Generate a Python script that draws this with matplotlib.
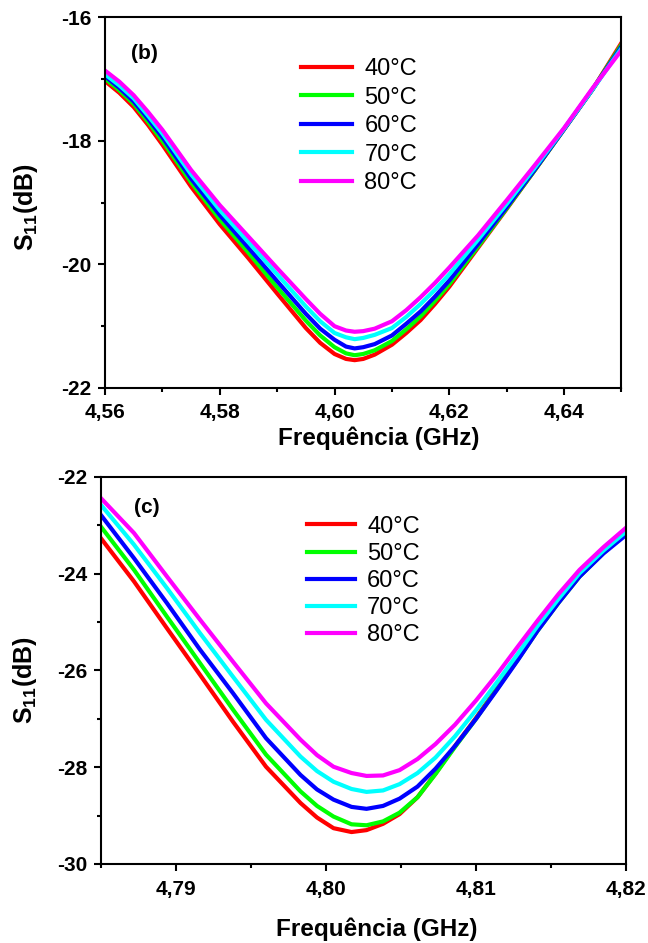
import numpy as np
import matplotlib
matplotlib.use("Agg")
import matplotlib.pyplot as plt
from matplotlib.ticker import MultipleLocator, FuncFormatter

plt.rcParams["font.family"] = ["Liberation Sans", "DejaVu Sans"]
plt.rcParams["axes.unicode_minus"] = False
plt.rcParams["mathtext.fontset"] = "custom"
plt.rcParams["mathtext.rm"] = "Liberation Sans:bold"
plt.rcParams["mathtext.bf"] = "Liberation Sans:bold"

labels = ["40°C", "50°C", "60°C", "70°C", "80°C"]
colors = ["#ff0000", "#00ff00", "#0000ff", "#00ffff", "#ff00ff"]

# panel (b)
freq_b = [4.5600, 4.5625, 4.5650, 4.5675, 4.5700, 4.5750, 4.5800, 4.5850, 4.5900, 4.5950,
          4.5975, 4.6000, 4.6020, 4.6035, 4.6050, 4.6070, 4.6100, 4.6125, 4.6150, 4.6175,
          4.6200, 4.6250, 4.6300, 4.6350, 4.6400, 4.6450, 4.6500]
s11_b_40 = [-17.03, -17.22, -17.45, -17.74, -18.06, -18.74, -19.35, -19.90, -20.47, -21.03,
            -21.27, -21.45, -21.53, -21.55, -21.53, -21.46, -21.30, -21.11, -20.90, -20.64,
            -20.36, -19.73, -19.10, -18.46, -17.81, -17.16, -16.41]
s11_b_50 = [-16.99, -17.18, -17.40, -17.69, -18.00, -18.67, -19.27, -19.81, -20.37, -20.91,
            -21.15, -21.34, -21.44, -21.47, -21.45, -21.39, -21.24, -21.05, -20.84, -20.59,
            -20.32, -19.71, -19.09, -18.46, -17.81, -17.16, -16.44]
s11_b_60 = [-16.95, -17.14, -17.36, -17.64, -17.94, -18.61, -19.20, -19.73, -20.27, -20.80,
            -21.04, -21.22, -21.33, -21.36, -21.34, -21.29, -21.15, -20.96, -20.76, -20.52,
            -20.26, -19.67, -19.07, -18.45, -17.81, -17.16, -16.47]
s11_b_70 = [-16.92, -17.10, -17.31, -17.59, -17.88, -18.54, -19.12, -19.64, -20.16, -20.68,
            -20.92, -21.11, -21.18, -21.21, -21.19, -21.14, -21.03, -20.85, -20.64, -20.41,
            -20.16, -19.60, -19.02, -18.42, -17.80, -17.16, -16.50]
s11_b_80 = [-16.86, -17.04, -17.26, -17.53, -17.82, -18.47, -19.04, -19.55, -20.06, -20.56,
            -20.80, -21.00, -21.07, -21.09, -21.08, -21.04, -20.92, -20.74, -20.53, -20.30,
            -20.05, -19.53, -18.96, -18.38, -17.79, -17.14, -16.53]

# panel (c)
freq_c = [4.7850, 4.7872, 4.7894, 4.7916, 4.7938, 4.7960, 4.7983, 4.7994, 4.8005, 4.8017,
          4.8027, 4.8038, 4.8049, 4.8061, 4.8073, 4.8086, 4.8100, 4.8114, 4.8128, 4.8141,
          4.8155, 4.8169, 4.8185, 4.8200]
s11_c_40 = [-23.27, -24.16, -25.13, -26.09, -27.06, -27.99, -28.74, -29.04, -29.26, -29.34,
            -29.30, -29.17, -28.97, -28.62, -28.13, -27.56, -26.98, -26.36, -25.75, -25.16,
            -24.58, -24.04, -23.55, -23.10]
s11_c_50 = [-23.03, -23.92, -24.89, -25.85, -26.81, -27.74, -28.50, -28.80, -29.02, -29.18,
            -29.20, -29.12, -28.94, -28.62, -28.14, -27.58, -27.00, -26.38, -25.77, -25.18,
            -24.60, -24.06, -23.57, -23.15]
s11_c_60 = [-22.79, -23.68, -24.61, -25.57, -26.47, -27.40, -28.16, -28.46, -28.67, -28.82,
            -28.86, -28.80, -28.65, -28.40, -28.03, -27.56, -27.00, -26.40, -25.78, -25.18,
            -24.60, -24.06, -23.58, -23.20]
s11_c_70 = [-22.58, -23.40, -24.30, -25.23, -26.13, -27.02, -27.78, -28.08, -28.30, -28.45,
            -28.51, -28.48, -28.35, -28.12, -27.80, -27.36, -26.82, -26.24, -25.65, -25.08,
            -24.52, -23.99, -23.52, -23.13]
s11_c_80 = [-22.44, -23.16, -24.06, -24.95, -25.82, -26.68, -27.43, -27.75, -27.99, -28.12,
            -28.18, -28.17, -28.06, -27.83, -27.52, -27.12, -26.62, -26.08, -25.50, -24.97,
            -24.42, -23.92, -23.45, -23.05]

fig = plt.figure(figsize=(6.48, 9.43), dpi=100)
ax_b = fig.add_axes([0.1620, 0.5886, 0.7971, 0.3929])
ax_c = fig.add_axes([0.1559, 0.0838, 0.8102, 0.4104])

comma = FuncFormatter(lambda v, p: f"{v:.2f}".replace(".", ","))
intfmt = FuncFormatter(lambda v, p: f"{v:.0f}")


def style(ax, xmaj, xmin, xpad):
    for sp in ax.spines.values():
        sp.set_linewidth(1.5)
    ax.xaxis.set_major_locator(MultipleLocator(xmaj))
    ax.xaxis.set_minor_locator(MultipleLocator(xmin))
    ax.yaxis.set_major_locator(MultipleLocator(2))
    ax.yaxis.set_minor_locator(MultipleLocator(1))
    ax.xaxis.set_major_formatter(comma)
    ax.yaxis.set_major_formatter(intfmt)
    ax.tick_params(which="major", direction="out", length=5, width=1.5, labelsize=15)
    ax.tick_params(which="minor", direction="out", length=3, width=1.5)
    ax.tick_params(axis="x", which="major", pad=xpad)
    ax.tick_params(axis="y", which="major", pad=5)
    for t in ax.get_xticklabels() + ax.get_yticklabels():
        t.set_fontweight("bold")


for ys, c, lab in zip([s11_b_40, s11_b_50, s11_b_60, s11_b_70, s11_b_80], colors, labels):
    ax_b.plot(freq_b, ys, color=c, lw=3, label=lab)
ax_b.set_xlim(4.56, 4.65)
ax_b.set_ylim(-22, -16)
style(ax_b, 0.02, 0.01, 6)
ax_b.set_xlabel("Frequência (GHz)", fontsize=17.5, fontweight="bold")
ax_b.xaxis.set_label_coords(0.53, -0.105)
ax_b.set_ylabel(r"S$_{11}$(dB)", fontsize=18, fontweight="bold")
ax_b.yaxis.set_label_coords(-0.126, 0.489)
ax_b.text(0.0755, 0.903, "(b)", transform=ax_b.transAxes, fontsize=15,
          fontweight="bold", ha="center", va="center")
ax_b.legend(loc="upper left", bbox_to_anchor=(0.379, 0.890), frameon=False, fontsize=17,
            borderpad=0, borderaxespad=0, handlelength=2.15, handletextpad=0.55,
            labelspacing=0.275)

for ys, c, lab in zip([s11_c_40, s11_c_50, s11_c_60, s11_c_70, s11_c_80], colors, labels):
    ax_c.plot(freq_c, ys, color=c, lw=3, label=lab)
ax_c.set_xlim(4.785, 4.82)
ax_c.set_ylim(-30, -22)
style(ax_c, 0.01, 0.005, 6.5)
ax_c.set_xlabel("Frequência (GHz)", fontsize=17.5, fontweight="bold")
ax_c.xaxis.set_label_coords(0.526, -0.138)
ax_c.set_ylabel(r"S$_{11}$(dB)", fontsize=18, fontweight="bold")
ax_c.yaxis.set_label_coords(-0.118, 0.475)
ax_c.text(0.0876, 0.922, "(c)", transform=ax_c.transAxes, fontsize=15,
          fontweight="bold", ha="center", va="center")
ax_c.legend(loc="upper left", bbox_to_anchor=(0.392, 0.900), frameon=False, fontsize=17,
            borderpad=0, borderaxespad=0, handlelength=2.05, handletextpad=0.5,
            labelspacing=0.22)

fig.savefig("out.png", dpi=100)
